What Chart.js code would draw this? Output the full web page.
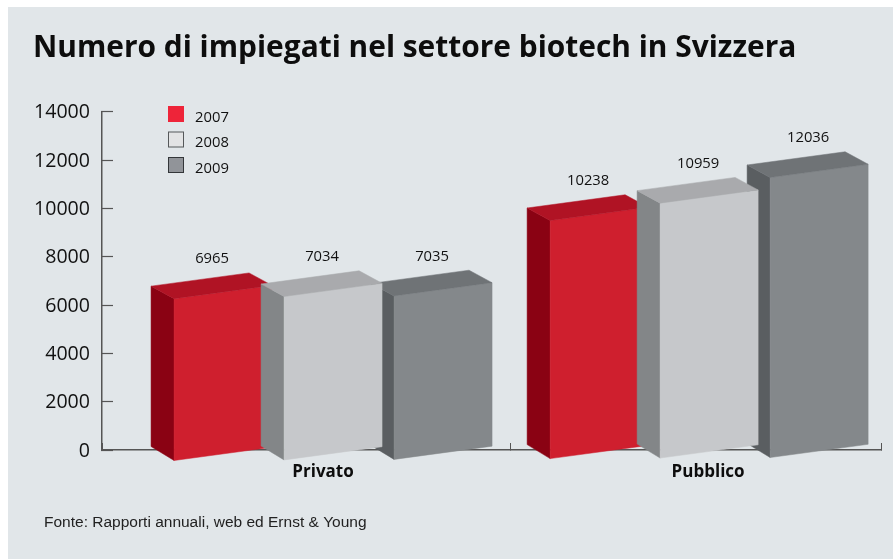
<!DOCTYPE html>
<html>
<head>
<meta charset="utf-8">
<title>Numero di impiegati nel settore biotech in Svizzera</title>
<script src="https://cdn.jsdelivr.net/npm/chart.js@4"></script>
<style>
    html, body { margin: 0; padding: 0; background: #fff; }
    canvas { display: block; }
</style>
</head>
<body>
<canvas id="mychart" width="893" height="559"></canvas>
<script>
const titleText = 'Numero di impiegati nel settore biotech in Svizzera';
const sourceText = 'Fonte: Rapporti annuali, web ed Ernst & Young';
const years = ['2007', '2008', '2009'];
const privato = [6965, 7034, 7035];
const pubblico = [10238, 10959, 12036];
const yearValues = years.map((y, i) => [privato[i], pubblico[i]]);

// x axis: bar groups sit on 0 and 1, ticks mix separators and the two names
const xTickValues = [-0.6144, -0.0266, 0.4707, 0.9973, 1.457];
const xTickLabels = ['', 'Privato', '', 'Pubblico', ''];

const frontColors = ['#cf1f2e', '#c6c8cb', '#84888b'];
const topColors = ['#b01324', '#a9aaad', '#6f7376'];
const sideColors = ['#8a0213', '#838688', '#5a5e61'];
const legendFill = ['#ee2439', '#e2e3e4', '#919499'];
const legendStroke = ['#ee2439', '#55585a', '#333639'];

// the source image is a fake 3D projection of the flat bars
const frontWidth = 98, depthX = 23, depthTop = 12.5, depthBottom = 14, tilt = 0.135, heightScale = 0.965;

function poly(ctx, color, pts) {
    ctx.fillStyle = color;
    ctx.strokeStyle = color;
    ctx.lineWidth = 0.5;
    ctx.beginPath();
    pts.forEach((p, i) => i ? ctx.lineTo(p[0], p[1]) : ctx.moveTo(p[0], p[1]));
    ctx.closePath();
    ctx.fill();
    ctx.stroke();
}

const box3d = {
    id: 'box3d',
    beforeDraw(chart) {
        const ctx = chart.ctx;
        ctx.save();
        ctx.fillStyle = '#e1e6e9';
        ctx.fillRect(8, 7, chart.width - 8, chart.height - 7);
        ctx.restore();
    },
    beforeDatasetDraw() {
        return false;   // flat bars are replaced by the boxes below
    },
    afterDatasetsDraw(chart) {
        const ctx = chart.ctx;
        ctx.save();
        // 2008 goes last, its side covers the end of the 2007 bar
        [0, 2, 1].forEach(d => {
            chart.getDatasetMeta(d).data.forEach(el => {
                const l = el.x - frontWidth / 2;
                const r = l + frontWidth;
                const rise = frontWidth * tilt;
                const yB = el.base + 11 - 0.005 * (l - 174);
                const yT = yB - (el.base - el.y) * heightScale;
                poly(ctx, sideColors[d], [[l - depthX, yT - depthTop], [l, yT], [l, yB], [l - depthX, yB - depthBottom]]);
                poly(ctx, frontColors[d], [[l, yT], [r, yT - rise], [r, yB - rise], [l, yB]]);
                poly(ctx, topColors[d], [[l - depthX, yT - depthTop], [r - depthX, yT - depthTop - rise], [r, yT - rise], [l, yT]]);
            });
        });
        // value labels
        ctx.font = '14.8px "Open Sans"';
        ctx.fillStyle = '#111';
        ctx.textAlign = 'center';
        ctx.textBaseline = 'middle';
        chart.data.datasets.forEach((ds, d) => {
            chart.getDatasetMeta(d).data.forEach((el, i) => {
                const l = el.x - frontWidth / 2;
                const yB = el.base + 11 - 0.005 * (l - 174);
                const yT = yB - (el.base - el.y) * heightScale;
                ctx.fillText(String(ds.data[i].y), el.x - 11, yT - depthTop - 27);
            });
        });
        // legend
        ctx.textAlign = 'left';
        chart.data.datasets.forEach((ds, d) => {
            const y = 106 + d * 25.5;
            ctx.fillStyle = legendFill[d];
            ctx.strokeStyle = legendStroke[d];
            ctx.lineWidth = 1;
            ctx.fillRect(168.5, y + 0.5, 15, 15);
            ctx.strokeRect(168.5, y + 0.5, 15, 15);
            ctx.fillStyle = '#111';
            ctx.fillText(ds.label, 195, y + 11.5);
        });
        // source line
        ctx.font = '15.5px "Liberation Sans"';
        ctx.fillStyle = '#222';
        ctx.fillText(sourceText, 44, 523);
        ctx.restore();
    }
};

const chart = new Chart(document.getElementById('mychart'), {
    type: 'bar',
    data: {
        datasets: years.map((y, i) => ({
            label: y,
            data: yearValues[i].map((v, g) => ({ x: g, y: v })),
            backgroundColor: frontColors[i],
            barThickness: 110
        }))
    },
    options: {
        responsive: false,
        animation: false,
        layout: { autoPadding: false, padding: { left: 33, right: 12, top: 12, bottom: 0 } },
        plugins: {
            legend: { display: false },
            tooltip: { enabled: false },
            title: {
                display: true,
                text: titleText,
                align: 'start',
                color: '#0d0d0d',
                font: { family: '"Open Sans"', size: 29.9, weight: 'bold', lineHeight: 1.2 },
                padding: { top: 19, bottom: 45 }
            }
        },
        scales: {
            x: {
                type: 'linear',
                offset: false,
                min: xTickValues[0],
                max: xTickValues[4],
                afterFit: s => { s.height = 109; s.paddingLeft = 0; s.paddingRight = 0; },
                afterBuildTicks: s => { s.ticks = xTickValues.map(v => ({ value: v })); },
                border: { color: '#555', width: 1.5 },
                grid: {
                    offset: false,
                    drawOnChartArea: false,
                    tickLength: -7,
                    tickColor: c => (xTickLabels[c.index] ? 'transparent' : '#555')
                },
                ticks: {
                    autoSkip: false,
                    maxRotation: 0,
                    padding: 19,
                    color: '#0d0d0d',
                    font: { family: '"Open Sans"', size: 17, weight: 'bold' },
                    callback: (v, i) => xTickLabels[i]
                }
            },
            y: {
                min: 0,
                max: 14000,
                afterFit: s => { s.width = 69; },
                border: { color: '#555', width: 1.5 },
                grid: { drawOnChartArea: false, tickLength: -11, tickColor: '#555', tickWidth: 1.2 },
                ticks: {
                    stepSize: 2000,
                    padding: 23,
                    color: '#111',
                    font: { family: '"Open Sans"', size: 19.6, lineHeight: '2px' },
                    // empty first line pushes the number down a little
                    callback: v => ['', String(v)]
                }
            }
        }
    },
    plugins: [box3d]
});
</script>
</body>
</html>
